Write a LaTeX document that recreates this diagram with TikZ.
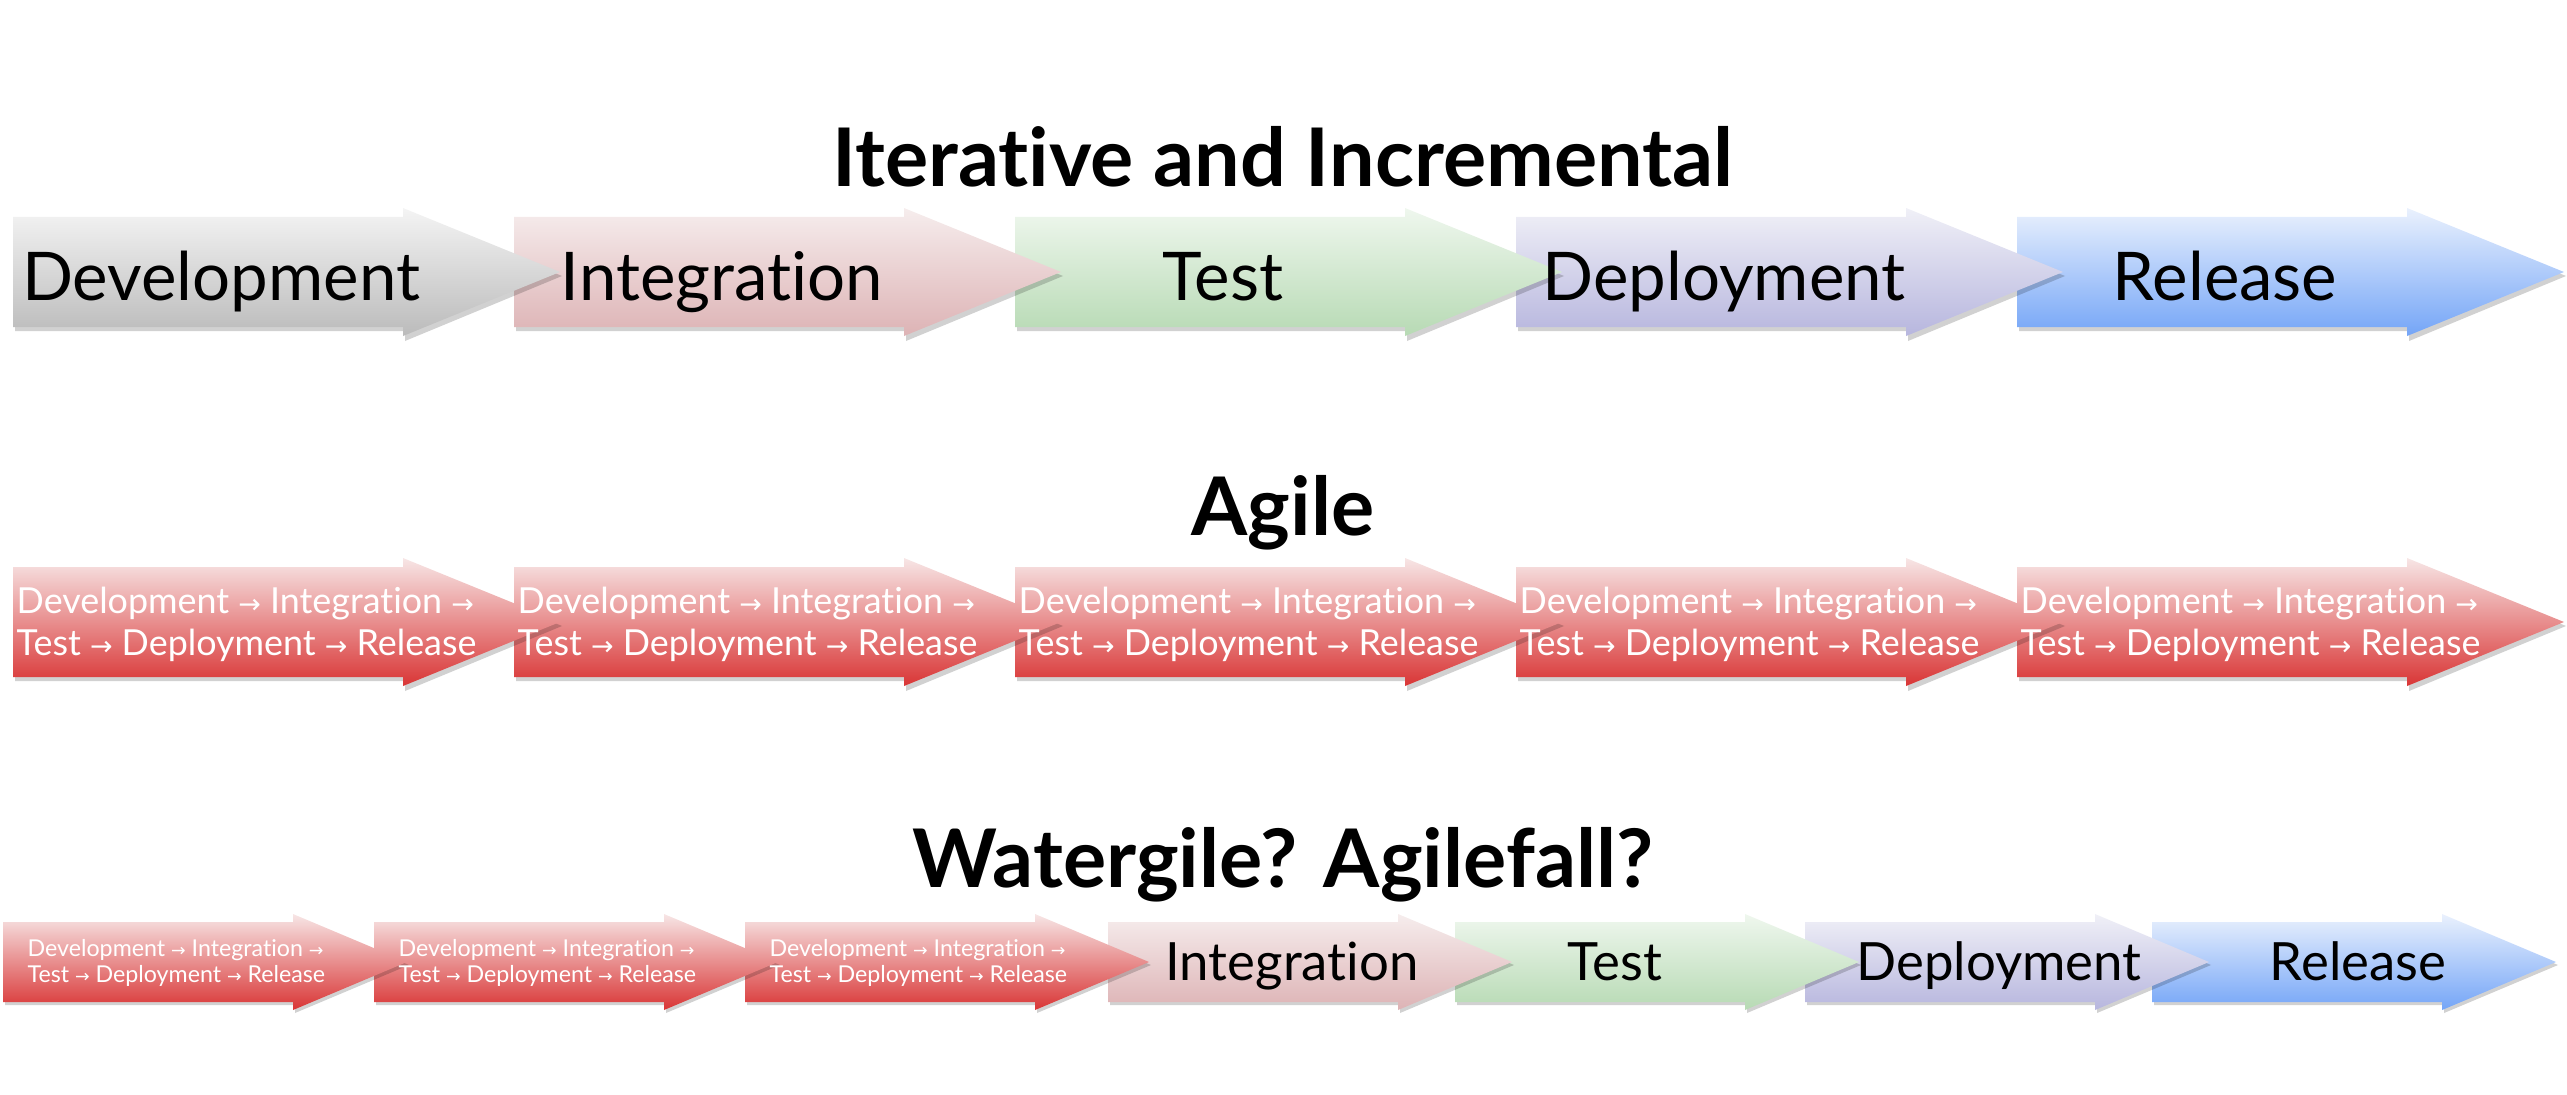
\documentclass[tikz,border=0pt]{standalone}
\usepackage{fontspec}
\setmainfont{Lato}[Ligatures={NoCommon,NoRare,NoDiscretionary}]
\newfontfamily\arrowfont[Scale=0.75]{DejaVu Sans}
\usetikzlibrary{positioning}

% stage colours (top / bottom of the gradient)
\definecolor{devtop}{HTML}{F4F4F4}   \definecolor{devbot}{HTML}{BBBBBB}
\definecolor{intgtop}{HTML}{F6EDED}  \definecolor{intgbot}{HTML}{DDB3B5}
\definecolor{testtop}{HTML}{EFF7EE}  \definecolor{testbot}{HTML}{B7DAB4}
\definecolor{depltop}{HTML}{F0F0F7}  \definecolor{deplbot}{HTML}{B7B6DE}
\definecolor{reltop}{HTML}{EAF1FD}   \definecolor{relbot}{HTML}{74A5F7}
\definecolor{agtop}{HTML}{F7E6E6}    \definecolor{agbot}{HTML}{D93535}

\newcommand{\nxt}{{\arrowfont →}}

% large stage arrow: start x, centre y, colour prefix
\newcommand{\bigstage}[3]{%
  \begin{scope}[shift={(#1,#2)}]
    \fill[stageshadow] (2,-51) -- (392,-51) -- (392,-60) -- (549,4) -- (392,69) -- (392,59) -- (2,59) -- cycle;
    \shade[top color=#3top, bottom color=#3bot] (0,-55) -- (390,-55) -- (390,-64) -- (547,0) -- (390,64) -- (390,55) -- (0,55) -- cycle;
  \end{scope}}
% small stage arrow for the last row
\newcommand{\smallstage}[3]{%
  \begin{scope}[shift={(#1,#2)}]
    \fill[stageshadow] (2,-37) -- (292,-37) -- (292,-45) -- (406,3) -- (292,51) -- (292,43) -- (2,43) -- cycle;
    \shade[top color=#3top, bottom color=#3bot] (0,-40) -- (290,-40) -- (290,-48) -- (404,0) -- (290,48) -- (290,40) -- (0,40) -- cycle;
  \end{scope}}

\tikzset{
  stageshadow/.style={black, opacity=.18},
  headline/.style={anchor=base, inner sep=0, font=\bfseries\fontsize{23}{28}\selectfont},
  stagetext/.style={anchor=base, inner sep=0, font=\fontsize{19.1}{23}\selectfont},
  midtext/.style={anchor=base, inner sep=0, font=\fontsize{15}{18}\selectfont},
  agiletext/.style={anchor=west, inner sep=0, align=left, text=white, font=\fontsize{10.2}{12}\selectfont},
  miniagile/.style={anchor=west, inner sep=0, align=left, text=white, font=\fontsize{6.6}{7.4}\selectfont}
}

\begin{document}
\begin{tikzpicture}[x=0.01cm, y=-0.01cm]
\useasboundingbox (0,0) rectangle (2567,1094);

% titles
\node[headline] (titleiter) at (1283,187) {Iterative and Incremental};
\node[headline] (titleagile) at (1283,535) {Agile};
\node[headline] (titlemix) at (1283,887) {Watergile? Agilefall?};

% row 1, drawn right to left so each tip lies on the next arrow
\bigstage{2017}{272}{rel}
\bigstage{1516}{272}{depl}
\bigstage{1015}{272}{test}
\bigstage{514}{272}{intg}
\bigstage{13}{272}{dev}
\node[stagetext] (dev) at (221,300) {Development};
\node[stagetext] (intg) at (722,300) {Integration};
\node[stagetext] (test) at (1223,300) {Test};
\node[stagetext] (depl) at (1724,300) {Deployment};
\node[stagetext] (rel) at (2225,300) {Release};

% row 2
\bigstage{2017}{622}{ag}
\bigstage{1516}{622}{ag}
\bigstage{1015}{622}{ag}
\bigstage{514}{622}{ag}
\bigstage{13}{622}{ag}
\node[agiletext] (agone) at (16,624) {Development \nxt{} Integration \nxt\\Test \nxt{} Deployment \nxt{} Release};
\node[agiletext] (agtwo) at (517,624) {Development \nxt{} Integration \nxt\\Test \nxt{} Deployment \nxt{} Release};
\node[agiletext] (agthree) at (1018,624) {Development \nxt{} Integration \nxt\\Test \nxt{} Deployment \nxt{} Release};
\node[agiletext] (agfour) at (1519,624) {Development \nxt{} Integration \nxt\\Test \nxt{} Deployment \nxt{} Release};
\node[agiletext] (agfive) at (2020,624) {Development \nxt{} Integration \nxt\\Test \nxt{} Deployment \nxt{} Release};

% row 3
\smallstage{2152}{962}{rel}
\smallstage{1805}{962}{depl}
\smallstage{1455}{962}{test}
\smallstage{1108}{962}{intg}
\smallstage{745}{962}{ag}
\smallstage{374}{962}{ag}
\smallstage{3}{962}{ag}
\node[miniagile] (minione) at (27,963) {Development \nxt{} Integration \nxt\\Test \nxt{} Deployment \nxt{} Release};
\node[miniagile] (minitwo) at (398,963) {Development \nxt{} Integration \nxt\\Test \nxt{} Deployment \nxt{} Release};
\node[miniagile] (minithree) at (769,963) {Development \nxt{} Integration \nxt\\Test \nxt{} Deployment \nxt{} Release};
\node[midtext] (mixintg) at (1292,980) {Integration};
\node[midtext] (mixtest) at (1615,980) {Test};
\node[midtext] (mixdepl) at (1999,980) {Deployment};
\node[midtext] (mixrel) at (2358,980) {Release};
\end{tikzpicture}
\end{document}
